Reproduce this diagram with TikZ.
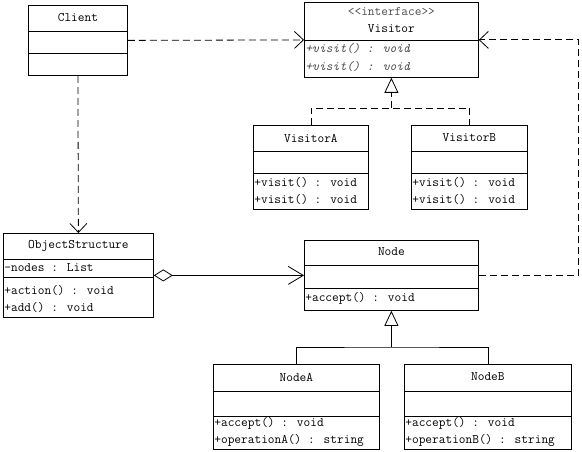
\documentclass[tikz,border=0pt]{standalone}
\usetikzlibrary{arrows.meta}
\tikzset{
  cls/.style={draw,line width=.8pt,anchor=north west,inner sep=0pt},
  ttl/.style={font=\fontsize{13}{15}\selectfont\ttfamily,inner sep=0pt},
  mem/.style={font=\fontsize{13}{15}\selectfont\ttfamily,anchor=west,inner sep=1pt},
  abs/.style={mem,font=\fontsize{13}{15}\selectfont\ttfamily\itshape,text=black!70},
  dep/.style={line width=.8pt,dash pattern=on 7pt off 4pt},
  opn/.style={-{Straight Barb[length=9pt,width=17pt]}},
  inh/.style={-{Triangle[open,length=15pt,width=14pt]}}
}
\begin{document}
\begin{tikzpicture}[x=1pt,y=-1pt,line width=.8pt]
\useasboundingbox (0,0) rectangle (582,452);
% classes
\node[cls,minimum width=99pt,minimum height=70pt] (client) at (28,5) {};
\node[cls,minimum width=174pt,minimum height=75pt] (vis) at (304,2) {};
\node[cls,minimum width=115pt,minimum height=84pt] (visA) at (253,125) {};
\node[cls,minimum width=116pt,minimum height=84pt] (visB) at (411,125) {};
\node[cls,minimum width=150pt,minimum height=84pt] (obj) at (3,233) {};
\node[cls,minimum width=174pt,minimum height=70pt] (nod) at (304,240) {};
\node[cls,minimum width=166pt,minimum height=85pt] (nodA) at (213,364) {};
\node[cls,minimum width=167pt,minimum height=85pt] (nodB) at (404,364) {};
% dividers
\draw (client.west|-0,31)--(client.east|-0,31) (client.west|-0,53)--(client.east|-0,53);
\draw (vis.west|-0,40)--(vis.east|-0,40);
\foreach \c in {visA,visB}
  \draw (\c.west|-0,151)--(\c.east|-0,151) (\c.west|-0,173)--(\c.east|-0,173);
\draw (obj.west|-0,259)--(obj.east|-0,259) (obj.west|-0,277)--(obj.east|-0,277);
\draw (nod.west|-0,265)--(nod.east|-0,265) (nod.west|-0,288)--(nod.east|-0,288);
\foreach \c in {nodA,nodB}
  \draw (\c.west|-0,391)--(\c.east|-0,391) (\c.west|-0,416)--(\c.east|-0,416);
% texts
\node[ttl] (tClient) at (client.north|-0,18) {Client};
\node[ttl,text=black!70] (tStereo) at (vis.north|-0,12) {{<}{<}interface{>}{>}};
\node[ttl] (tVis) at (vis.north|-0,29) {Visitor};
\node[abs] (vm1) at (304,49) {+visit() : void};
\node[abs] (vm2) at (304,67) {+visit() : void};
\node[ttl] (tVisA) at (visA.north|-0,138) {VisitorA};
\node[mem] (am1) at (253,183) {+visit() : void};
\node[mem] (am2) at (253,200) {+visit() : void};
\node[ttl] (tVisB) at (visB.north|-0,138) {VisitorB};
\node[mem] (bm1) at (411,183) {+visit() : void};
\node[mem] (bm2) at (411,200) {+visit() : void};
\node[ttl] (tObj) at (obj.north|-0,246) {ObjectStructure};
\node[mem] (oa1) at (3,268) {-nodes : List};
\node[mem] (om1) at (3,291) {+action() : void};
\node[mem] (om2) at (3,308) {+add() : void};
\node[ttl] (tNod) at (nod.north|-0,252) {Node};
\node[mem] (nm1) at (304,298) {+accept() : void};
\node[ttl] (tNodA) at (nodA.north|-0,377) {NodeA};
\node[mem] (na1) at (213,423) {+accept() : void};
\node[mem] (na2) at (213,440) {+operationA() : string};
\node[ttl] (tNodB) at (nodB.north|-0,377) {NodeB};
\node[mem] (nb1) at (404,423) {+accept() : void};
\node[mem] (nb2) at (404,440) {+operationB() : string};
% connectors
\draw[dep,opn] (client.east)--(vis.west);
\draw[dep,opn] (client.south)--(obj.north);
\draw[dep,opn] (nod.east)--++(100,0)|-(vis.east);
\draw[{Diamond[open,length=19pt,width=12pt]}-{Straight Barb[length=15pt,width=18pt]}] (obj.east)--(nod.west);
\coordinate (vjoin) at (vis.south|-0,108);
\draw[dep] (visA.north)|-(vjoin)-|(visB.north);
\draw[dep,inh] (vjoin)--(vis.south);
\coordinate (njoin) at (nod.south|-0,347);
\draw (nodA.north)|-(njoin)-|(nodB.north);
\draw[inh] (njoin)--(nod.south);
\end{tikzpicture}
\end{document}
